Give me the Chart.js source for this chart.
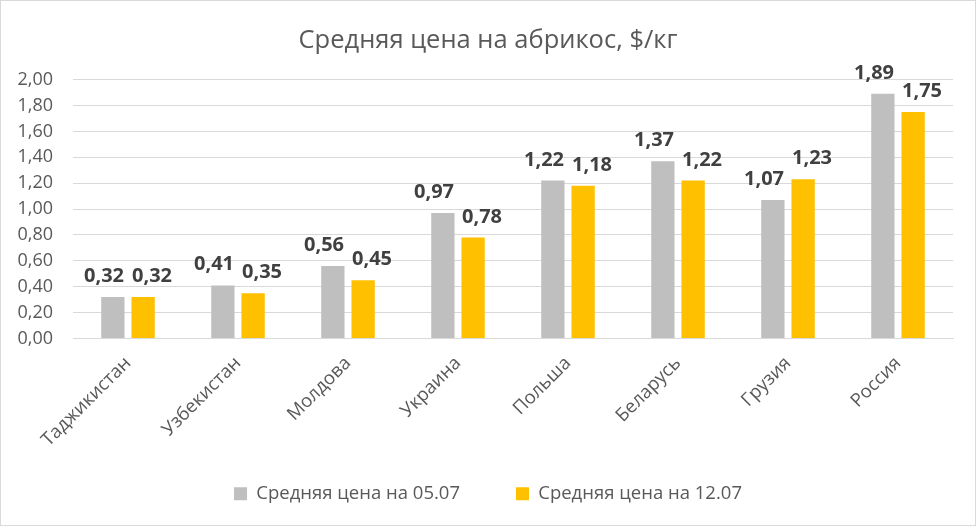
<!DOCTYPE html>
<html><head><meta charset="utf-8">
<script src="https://cdn.jsdelivr.net/npm/chart.js@4/dist/chart.umd.min.js"></script>
<style>
html,body{margin:0;padding:0;background:#fff;}
#wrap{position:absolute;left:0;top:0;width:974px;height:524px;border:1px solid #d9d9d9;}
</style></head>
<body>
<div id="wrap"><canvas id="c" width="974" height="524"></canvas></div>
<script>
const categories = ["Таджикистан","Узбекистан","Молдова","Украина","Польша","Беларусь","Грузия","Россия"];
const price0507 = [0.32,0.41,0.56,0.97,1.22,1.37,1.07,1.89];
const price1207 = [0.32,0.35,0.45,0.78,1.18,1.22,1.23,1.75];
const seriesNames = ["Средняя цена на 05.07","Средняя цена на 12.07"];
const titleText = "Средняя цена на абрикос, $/кг";

const FONT = "'Open Sans', 'Liberation Sans', Arial, sans-serif";
const fmt = v => v.toFixed(2).replace('.', ',');

const labelPlugin = {
  id: 'valueLabels',
  afterDatasetsDraw(chart) {
    const ctx = chart.ctx;
    ctx.save();
    ctx.font = "bold 20px " + FONT;
    ctx.fillStyle = "#404040";
    ctx.textAlign = "center";
    ctx.textBaseline = "alphabetic";
    const m0 = chart.getDatasetMeta(0), m1 = chart.getDatasetMeta(1);
    const d0 = chart.data.datasets[0].data, d1 = chart.data.datasets[1].data;
    for (let j = 0; j < d0.length; j++) {
      const b0 = m0.data[j], b1 = m1.data[j];
      const t0 = fmt(d0[j]), t1 = fmt(d1[j]);
      const w0 = ctx.measureText(t0).width, w1 = ctx.measureText(t1).width;
      let x0 = b0.x, x1 = b1.x;
      const overlap = (x0 + w0 / 2 + 8) - (x1 - w1 / 2);
      if (overlap > 0) { x0 -= overlap / 2; x1 += overlap / 2; }
      ctx.fillText(t0, x0, b0.y - 15);
      ctx.fillText(t1, x1, b1.y - 15);
    }
    ctx.restore();
  }
};

new Chart(document.getElementById('c'), {
  type: 'bar',
  data: {
    labels: categories,
    datasets: [
      { label: seriesNames[0], data: price0507, backgroundColor: '#bfbfbf' },
      { label: seriesNames[1], data: price1207, backgroundColor: '#ffc000' }
    ]
  },
  options: {
    responsive: false,
    animation: false,
    layout: { padding: { left: 22, right: 22, top: 0, bottom: 12 } },
    datasets: { bar: { categoryPercentage: 0.55, barPercentage: 0.77 } },
    plugins: {
      title: {
        display: true, text: titleText, color: '#595959',
        font: { family: FONT, size: 25.5, weight: 'normal' },
        padding: { top: 24, bottom: 24 }
      },
      legend: {
        position: 'bottom',
        labels: {
          color: '#595959', font: { family: FONT, size: 18.5 },
          boxWidth: 13, boxHeight: 13, padding: 56
        }
      },
      tooltip: { enabled: false }
    },
    scales: {
      x: {
        afterFit: s => { s.height = 90; s._computeLabelArea = () => undefined; },
        grid: { display: false },
        border: { display: true, color: '#d9d9d9' },
        ticks: { color: '#595959', font: { family: FONT, size: 18.5 }, maxRotation: 45, minRotation: 45, padding: 6 }
      },
      y: {
        min: 0, max: 2,
        afterFit: s => { s.width = 50; s._computeLabelArea = () => undefined; },
        grid: { color: '#d9d9d9', drawTicks: false },
        border: { display: false },
        ticks: {
          stepSize: 0.2, color: '#595959', font: { family: FONT, size: 18 }, padding: 20,
          callback: v => fmt(v)
        }
      }
    }
  },
  plugins: [labelPlugin]
});
</script>
</body></html>
